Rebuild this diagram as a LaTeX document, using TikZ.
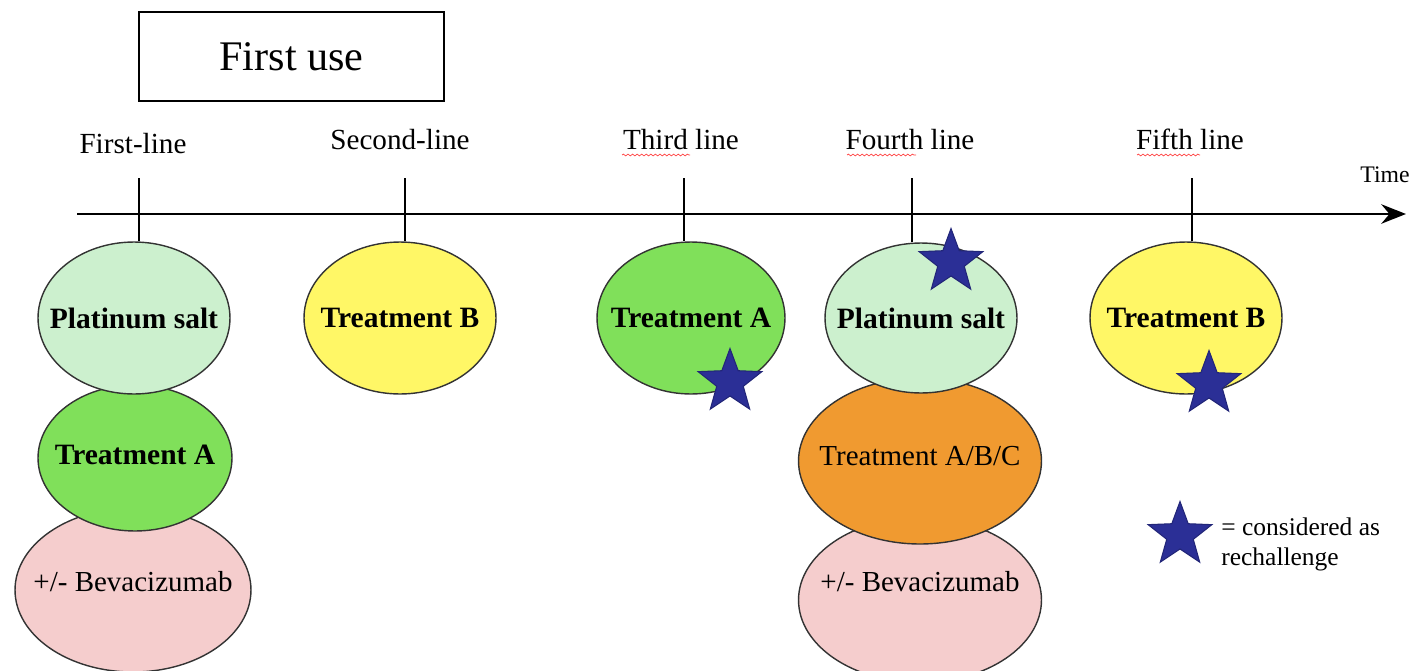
\documentclass[tikz,border=0pt]{standalone}
\usepackage{fontspec}
\setmainfont{Liberation Serif}
\usetikzlibrary{shapes.geometric,arrows.meta,decorations.pathmorphing}
\definecolor{mint}{HTML}{CCF0CE}
\definecolor{greenA}{HTML}{80E05A}
\definecolor{yellowB}{HTML}{FFF766}
\definecolor{orangeC}{HTML}{F09A30}
\definecolor{pinkBev}{HTML}{F5CDCD}
\definecolor{starblue}{HTML}{2B2F96}
\tikzset{
  x=0.02cm, y=-0.02cm,
  ell/.style={ellipse, draw=black!80, line width=0.8pt, inner sep=0pt, minimum width=3.84cm, minimum height=3.04cm},
  txtb/.style={inner sep=0pt, font=\fontsize{16.8pt}{20pt}\selectfont\bfseries},
  txtr/.style={inner sep=0pt, font=\fontsize{16.5pt}{20pt}\selectfont},
  lbl/.style={anchor=base, inner sep=0pt, font=\fontsize{16.6pt}{20pt}\selectfont},
  tick/.style={line width=1.5pt},
  rstar/.style={star, star points=5, star point ratio=2.4, draw=starblue!80!black, fill=starblue, line width=0.6pt, minimum size=1.34cm, inner sep=0pt},
  wavy/.style={red!75, line width=0.4pt, decorate, decoration={snake, amplitude=0.5pt, segment length=2.6pt}}
}
\begin{document}
\begin{tikzpicture}
\useasboundingbox (0,0) rectangle (1414,670);
% title box
\node[draw, line width=1.6pt, minimum width=6.1cm, minimum height=1.78cm, inner sep=0pt, font=\fontsize{24pt}{28pt}\selectfont] (title) at (291.5,56.5) {First use};
% labels
\node[lbl] (l1) at (133,153) {First-line};
\node[lbl] (l2) at (400,149) {Second-line};
\node[lbl] (l3) at (681,149) {Third line};
\node[lbl] (l4) at (910,149) {Fourth line};
\node[lbl] (l5) at (1190,149) {Fifth line};
\node[anchor=base, inner sep=0pt, font=\fontsize{13.5pt}{16pt}\selectfont] (time) at (1385,182) {Time};
\draw[wavy] (622,155) -- (690,155);
\draw[wavy] (847,155) -- (916,155);
\draw[wavy] (1137,155) -- (1200,155);
% axis
\coordinate (ax0) at (77,214);
\coordinate (ax1) at (1406,214);
\draw[line width=1.7pt, -{Stealth[length=14pt, width=11pt]}] (ax0) -- (ax1);
% column 1
\node[ell, fill=pinkBev, minimum width=4.72cm, minimum height=3.28cm] (b1) at (133,590) {};
\node[txtr] (b1t) at (133,582) {+/- Bevacizumab};
\node[ell, fill=greenA, minimum width=3.88cm, minimum height=2.92cm] (a1) at (135,458) {};
\node[txtb] (a1t) at (135,455) {Treatment A};
\node[ell, fill=mint] (p1) at (134,318) {};
\node[txtb] (p1t) at (p1) {Platinum salt};
% column 2
\node[ell, fill=yellowB] (tb2) at (400,318) {};
\node[txtb] (tb2t) at (tb2) {Treatment B};
% column 3
\node[ell, fill=greenA, minimum width=3.76cm] (ta3) at (691,318) {};
\node[txtb] (ta3t) at (ta3) {Treatment A};
% column 4
\node[ell, fill=pinkBev, minimum width=4.86cm, minimum height=3.3cm] (bv4) at (920,600) {};
\node[txtr] (bv4t) at (920,582) {+/- Bevacizumab};
\node[ell, fill=orangeC, minimum width=4.86cm, minimum height=3.32cm] (o4) at (920,461) {};
\node[txtr] (o4t) at (920,456) {Treatment A/B/C};
\node[ell, fill=mint, minimum height=3.0cm] (p4) at (921,318) {};
\node[txtb] (p4t) at (p4) {Platinum salt};
% column 5
\node[ell, fill=yellowB] (tb5) at (1186,318) {};
\node[txtb] (tb5t) at (tb5) {Treatment B};
% ticks
\coordinate (t1) at (139,178);
\coordinate (t2) at (405,178);
\coordinate (t3) at (684,178);
\coordinate (t4) at (912,178);
\coordinate (t5) at (1192,178);
\draw[tick] (t1) -- (t1 |- p1.north);
\draw[tick] (t2) -- (t2 |- tb2.north);
\draw[tick] (t3) -- (t3 |- ta3.north);
\draw[tick] (t4) -- (t4 |- p4.north);
\draw[tick] (t5) -- (t5 |- tb5.north);
% stars
\node[rstar] (s4) at (951,262) {};
\node[rstar] (s3) at (730,382) {};
\node[rstar] (s5) at (1209,384) {};
\node[rstar] (sl) at (1180,535) {};
% legend
\node[anchor=west, align=left, inner sep=0pt, font=\fontsize{14.5pt}{30\dimexpr 0.02cm\relax}\selectfont] (leg) at (1221,544) {= considered as\\rechallenge};
\end{tikzpicture}
\end{document}
